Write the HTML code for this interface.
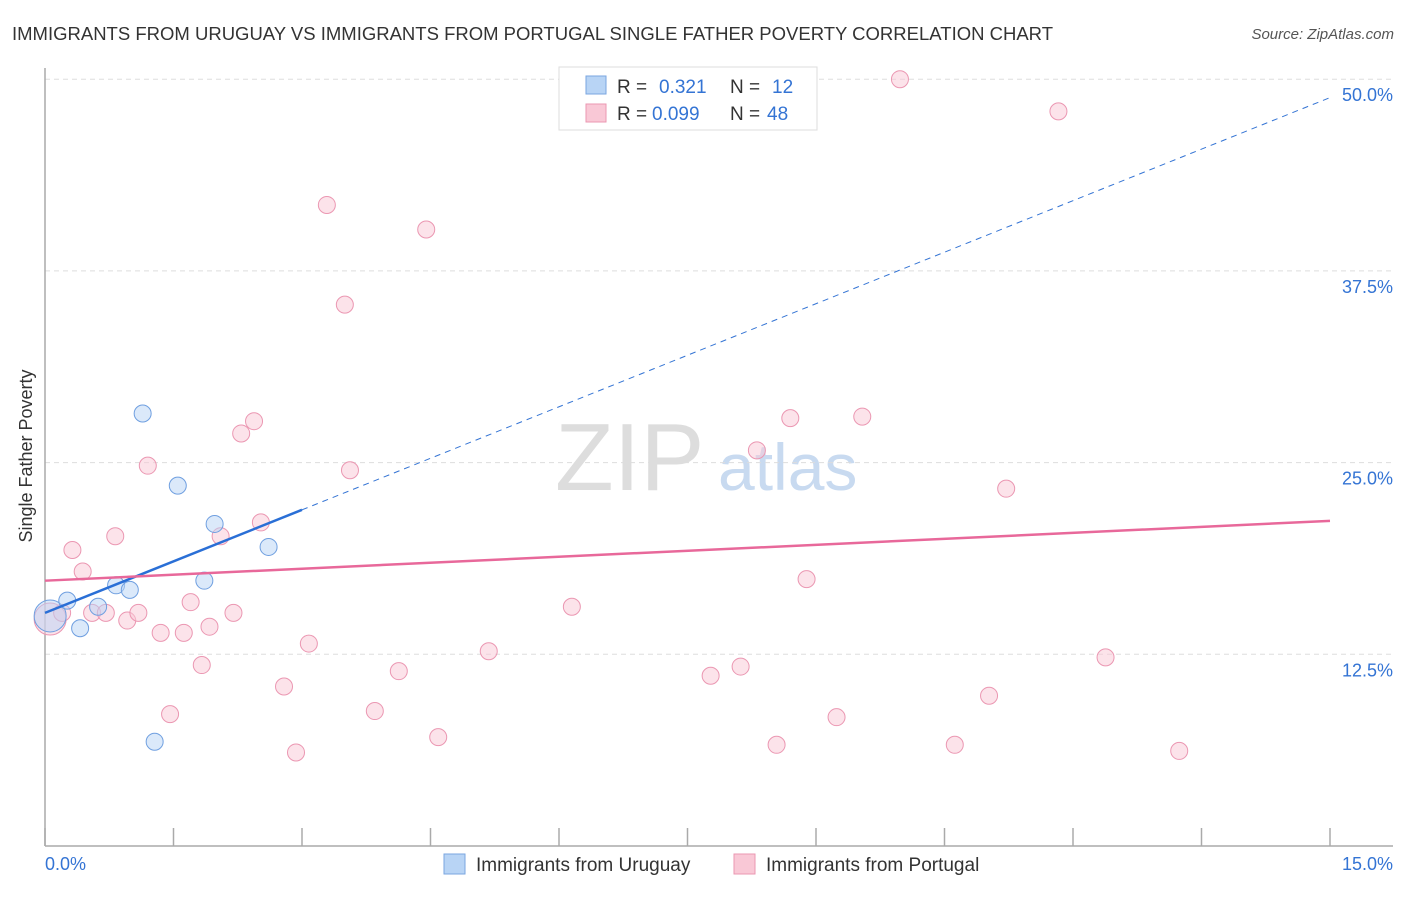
<!DOCTYPE html>
<html><head><meta charset="utf-8"><style>
body{margin:0;background:#fff;font-family:"Liberation Sans",sans-serif;}
svg text{font-family:"Liberation Sans",sans-serif;}
</style></head><body>
<svg id="c" width="1406" height="892" xmlns="http://www.w3.org/2000/svg">
<text x="12" y="40" font-size="18.5" fill="#333" textLength="1041">IMMIGRANTS FROM URUGUAY VS IMMIGRANTS FROM PORTUGAL SINGLE FATHER POVERTY CORRELATION CHART</text>
<text x="1394" y="39" font-size="15" fill="#555" font-style="italic" text-anchor="end">Source: ZipAtlas.com</text>
<text x="32" y="456" font-size="18" fill="#333" transform="rotate(-90 32 456)" text-anchor="middle">Single Father Poverty</text>
<text x="555" y="490" font-size="96" fill="#ddd" font-family="Liberation Serif">ZIP</text>
<text x="718" y="490" font-size="66" fill="#c8daf0">atlas</text>
<g id="grid"></g><g id="pts"></g><g id="lines"></g>
<g>
<rect x="559" y="67" width="258" height="63" fill="#fff" stroke="#ddd"/>
<rect x="586" y="76" width="20" height="18" fill="#b8d4f5" stroke="#7aa6e0"/>
<rect x="586" y="104" width="20" height="18" fill="#f9c8d6" stroke="#eb97b2"/>
<text x="617" y="93" font-size="19" fill="#333">R = </text><text x="659" y="93" font-size="19" fill="#3474d4">0.321</text>
<text x="730" y="93" font-size="19" fill="#333">N = </text><text x="772" y="93" font-size="19" fill="#3474d4">12</text>
<text x="617" y="120" font-size="19" fill="#333">R = </text><text x="652" y="120" font-size="19" fill="#3474d4">0.099</text>
<text x="730" y="120" font-size="19" fill="#333">N = </text><text x="767" y="120" font-size="19" fill="#3474d4">48</text>
</g>
<g>
<rect x="444" y="854" width="21" height="20" fill="#b8d4f5" stroke="#7aa6e0"/>
<text x="476" y="871" font-size="19" fill="#333">Immigrants from Uruguay</text>
<rect x="734" y="854" width="21" height="20" fill="#f9c8d6" stroke="#eb97b2"/>
<text x="766" y="871" font-size="19" fill="#333">Immigrants from Portugal</text>
</g>
</svg>
<script>
const xTicks=[0,1.5,3,4.5,6,7.5,9,10.5,12,13.5,15];
const yTicks=[12.5,25,37.5,50];
const yTickLabels=["12.5%","25.0%","37.5%","50.0%"];
const uruguayX=[0.06,0.26,0.41,0.62,0.83,0.99,1.14,1.28,1.55,1.86,1.98,2.61];
const uruguayY=[15.0,16.0,14.2,15.6,17.0,16.7,28.2,6.8,23.5,17.3,21.0,19.5];
const portugalX=[0.06,0.2,0.32,0.44,0.55,0.71,0.82,0.96,1.09,1.2,1.35,1.46,1.62,1.7,1.83,1.92,2.05,2.2,2.29,2.44,2.52,2.79,2.93,3.08,3.29,3.5,3.56,3.85,4.13,4.45,4.59,5.18,6.15,7.77,8.12,8.31,8.54,8.7,8.89,9.24,9.54,9.98,10.62,11.02,11.22,11.83,12.38,13.24];
const portugalY=[14.8,15.2,19.3,17.9,15.2,15.2,20.2,14.7,15.2,24.8,13.9,8.6,13.9,15.9,11.8,14.3,20.2,15.2,26.9,27.7,21.1,10.4,6.1,13.2,41.8,35.3,24.5,8.8,11.4,40.2,7.1,12.7,15.6,11.1,11.7,25.8,6.6,27.9,17.4,8.4,28.0,50.0,6.6,9.8,23.3,47.9,12.3,6.2];
const uruguayLine=[[0,15.2],[15,48.8]];
const portugalLine=[[0,17.3],[15,21.2]];
const X=v=>45+v/15*1285, Y=v=>846-v/12.5*191.7;
const NS="http://www.w3.org/2000/svg";
function mk(p,t,a){const e=document.createElementNS(NS,t);for(const k in a)e.setAttribute(k,a[k]);p.appendChild(e);return e;}
const g=document.getElementById('grid');
yTicks.forEach((t,i)=>{
 const l=mk(g,'line',{x1:45,x2:1393,y1:Y(t),y2:Y(t),stroke:'#ddd','stroke-dasharray':'5,4'});
 
 
 const tx=mk(g,'text',{x:1393,y:Y(t)+22,'font-size':18,fill:'#3474d4','text-anchor':'end'});
 tx.textContent=yTickLabels[i];
 
 
});
const ax=mk(g,'line',{x1:45,x2:45,y1:68,y2:846,stroke:'#aaa','stroke-width':1.5});


const bx=mk(g,'line',{x1:45,x2:1393,y1:846,y2:846,stroke:'#aaa','stroke-width':1.5});


xTicks.forEach(t=>{const l=mk(g,'line',{x1:X(t),x2:X(t),y1:828,y2:846,stroke:'#aaa','stroke-width':1.5});
 
 });
let t0=mk(g,'text',{x:45,y:870,'font-size':18,fill:'#3474d4'});t0.textContent='0.0%';


let t1=mk(g,'text',{x:1393,y:870,'font-size':18,fill:'#3474d4','text-anchor':'end'});t1.textContent='15.0%';


const P=document.getElementById('pts');
portugalX.forEach((x,i)=>{const c=mk(P,'circle',{cx:X(x),cy:Y(portugalY[i]),r:i==0?16:8.5,fill:'#f9c8d6','fill-opacity':0.5,stroke:'#eb97b2','stroke-width':1});
 
 });
uruguayX.forEach((x,i)=>{const c=mk(P,'circle',{cx:X(x),cy:Y(uruguayY[i]),r:i==0?16:8.5,fill:'#b8d4f5','fill-opacity':0.5,stroke:'#6f9fe0','stroke-width':1});
 
 });
const L=document.getElementById('lines');
const uy=x=>uruguayLine[0][1]+(uruguayLine[1][1]-uruguayLine[0][1])*x/15;
let d=mk(L,'line',{x1:X(3),y1:Y(uy(3)),x2:X(15),y2:Y(uy(15)),stroke:'#3474d4','stroke-width':1,'stroke-dasharray':'6,5'});


let s=mk(L,'line',{x1:X(0),y1:Y(uy(0)),x2:X(3),y2:Y(uy(3)),stroke:'#2a6fd6','stroke-width':2.5});


let p=mk(L,'line',{x1:X(portugalLine[0][0]),y1:Y(portugalLine[0][1]),x2:X(portugalLine[1][0]),y2:Y(portugalLine[1][1]),stroke:'#e8689a','stroke-width':2.5});


</script>
</body></html>
